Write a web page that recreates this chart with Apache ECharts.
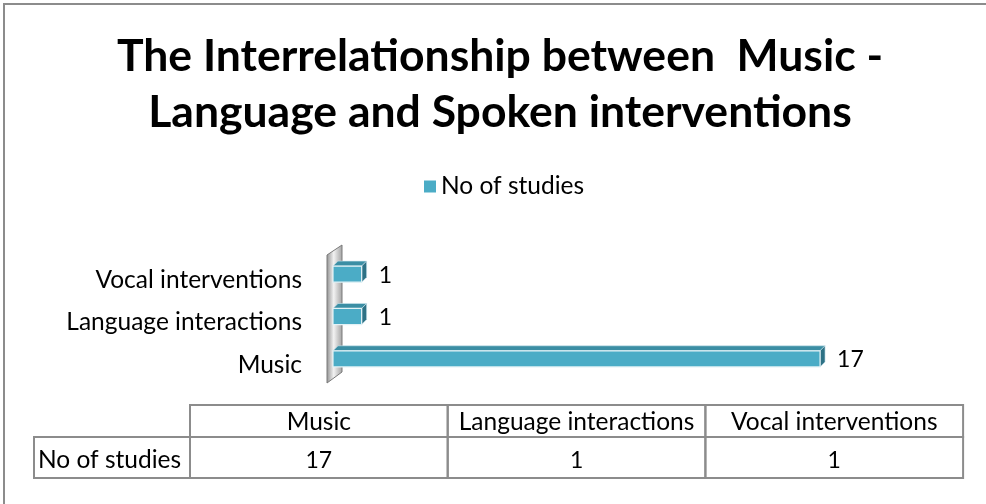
<!DOCTYPE html>
<html>
<head>
<meta charset="utf-8">
<style>
  html, body { margin: 0; padding: 0; background: #ffffff; }
  #chart { width: 986px; height: 504px; }
</style>
<script src="https://cdn.jsdelivr.net/npm/echarts@6/dist/echarts.min.js"></script>
</head>
<body>
<div id="chart"></div>
<script>
// Categories (bottom to top on the bar axis, left to right in the table)
const categories = ['Music', 'Language interactions', 'Vocal interventions'];
const studyCounts = [17, 1, 1];
const seriesName = 'No of studies';
const titleLines = ['The Interrelationship between  Music -', 'Language and Spoken interventions'];

const FONT = 'Lato, "Open Sans", sans-serif';
const TEXT_SIZE = 24.5;
const NUM_SIZE = 23;
const BAR_FRONT = '#4bacc6';
const BAR_TOP = '#3b8ea4';
const BAR_SIDE = '#2d7185';
const DEPTH = 5;

const chart = echarts.init(document.getElementById('chart'), null, { renderer: 'canvas' });

// Data table under the plot, built from the same arrays
const table = { left: 190, top: 405, colW: 257.7, headH: 32, rowH: 41, labelLeft: 34 };
const tableGraphics = [];
const lineStyle = { stroke: '#8c8c8c', lineWidth: 2, fill: null };
categories.forEach((c, i) => {
  const x = table.left + i * table.colW;
  tableGraphics.push({ type: 'rect', shape: { x: x, y: table.top, width: table.colW, height: table.headH }, style: lineStyle, silent: true });
  tableGraphics.push({ type: 'rect', shape: { x: x, y: table.top + table.headH, width: table.colW, height: table.rowH }, style: lineStyle, silent: true });
  tableGraphics.push({ type: 'text', x: x + table.colW / 2, y: table.top + table.headH / 2 + 1,
    style: { text: c, fontFamily: FONT, fontSize: TEXT_SIZE, fill: '#000', align: 'center', verticalAlign: 'middle' }, silent: true });
  tableGraphics.push({ type: 'text', x: x + table.colW / 2, y: table.top + table.headH + table.rowH / 2 + 3,
    style: { text: String(studyCounts[i]), fontFamily: FONT, fontSize: NUM_SIZE, fill: '#000', align: 'center', verticalAlign: 'middle' }, silent: true });
});
tableGraphics.push({ type: 'rect', shape: { x: table.labelLeft, y: table.top + table.headH, width: table.left - table.labelLeft, height: table.rowH }, style: lineStyle, silent: true });
tableGraphics.push({ type: 'text', x: table.labelLeft + 4, y: table.top + table.headH + table.rowH / 2 + 3,
  style: { text: seriesName, fontFamily: FONT, fontSize: TEXT_SIZE, fill: '#000', align: 'left', verticalAlign: 'middle' }, silent: true });

// Outer chart-area frame (runs off the right and bottom edges)
tableGraphics.push({ type: 'rect', shape: { x: 4, y: 4, width: 1000, height: 520 }, style: { stroke: '#8c8c8c', lineWidth: 2, fill: null }, silent: true, z: -1 });

const option = {
  backgroundColor: '#ffffff',
  animation: false,
  title: {
    text: titleLines.join('\n'),
    left: 495,
    textAlign: 'center',
    top: 24,
    padding: 5,
    textStyle: { fontFamily: FONT, fontWeight: 'bold', fontSize: 44.5, color: '#000', lineHeight: 56 }
  },
  legend: {
    data: [{ name: seriesName, icon: 'rect' }],
    top: 169,
    left: 419,
    itemWidth: 12,
    itemHeight: 12,
    itemGap: 6,
    textStyle: { fontFamily: FONT, fontSize: TEXT_SIZE, color: '#000' }
  },
  grid: { left: 333, right: 80, top: 254, height: 127, containLabel: false },
  xAxis: {
    type: 'value', min: 0, max: 20,
    show: false
  },
  yAxis: {
    type: 'category',
    data: categories,
    axisLine: { show: false },
    axisTick: { show: false },
    axisLabel: { margin: 31, fontFamily: FONT, fontSize: TEXT_SIZE, color: '#000',
      verticalAlign: 'top', lineHeight: 10 }
  },
  series: [
    {
      // side wall behind the bars
      type: 'custom',
      silent: true,
      data: [[0, 0]],
      z: 1,
      renderItem: function (params, api) {
        const cs = params.coordSys;
        const x0 = cs.x - 6, x1 = cs.x + 9;
        const top = cs.y, bot = cs.y + cs.height;
        return {
          type: 'polygon',
          shape: { points: [[x0, top + 1], [x1, top - 9], [x1, bot - 9], [x0, bot + 2]] },
          style: {
            fill: new echarts.graphic.LinearGradient(0, 0, 1, 0, [
              { offset: 0, color: '#8e8e8e' },
              { offset: 0.45, color: '#f2f2f2' },
              { offset: 1, color: '#a0a0a0' }
            ]),
            stroke: '#7a7a7a', lineWidth: 1
          }
        };
      }
    },
    {
      name: seriesName,
      type: 'custom',
      color: BAR_FRONT,
      z: 2,
      data: studyCounts.map((v, i) => [v, i]),
      encode: { x: 0, y: 1 },
      renderItem: function (params, api) {
        const v = api.value(0), idx = api.value(1);
        const start = api.coord([0, idx]);
        const end = api.coord([v, idx]);
        const h = api.size([0, 1])[1] * 0.38;
        const x0 = start[0], x1 = end[0];
        const yt = start[1] - h / 2 - 1, yb = yt + h;
        const d = DEPTH;
        return {
          type: 'group',
          children: [
            { type: 'polygon', shape: { points: [[x0, yt], [x0 + d, yt - d], [x1 + d, yt - d], [x1, yt]] },
              style: { fill: BAR_TOP, stroke: '#cfe6ee', lineWidth: 0.6 } },
            { type: 'polygon', shape: { points: [[x1, yt], [x1 + d, yt - d], [x1 + d, yb - d], [x1, yb]] },
              style: { fill: BAR_SIDE, stroke: '#cfe6ee', lineWidth: 0.6 } },
            { type: 'rect', shape: { x: x0, y: yt, width: x1 - x0, height: h },
              style: { fill: BAR_FRONT, stroke: '#e3f2f6', lineWidth: 1.2 } },
            { type: 'text', x: x1 + d + 12, y: (yt + yb) / 2 + 1,
              style: { text: String(v), fontFamily: FONT, fontSize: NUM_SIZE, fill: '#000', verticalAlign: 'middle', align: 'left' } }
          ]
        };
      }
    }
  ],
  graphic: tableGraphics
};

chart.setOption(option);
</script>
</body>
</html>
